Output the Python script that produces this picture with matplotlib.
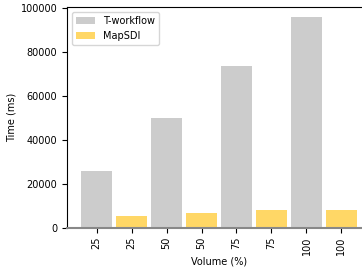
import matplotlib
matplotlib.use('Agg')
import matplotlib.pyplot as plt
import numpy as np

volumes = ['25', '50', '75', '100']
t_workflow = [25900, 49900, 73500, 96000]
mapsdi = [5600, 6800, 8200, 8300]

grey = '#cccccc'
gold = '#ffd766'

fig = plt.figure(figsize=(3.62, 2.67), dpi=100)
ax = fig.add_axes([67 / 362, 1 - 228 / 267, 304 / 362, 221 / 267])

pos_t = np.arange(len(volumes)) * 2
pos_m = pos_t + 1
ax.bar(pos_t, t_workflow, width=0.9, color=grey, label='T-workflow')
ax.bar(pos_m, mapsdi, width=0.9, color=gold, label='MapSDI')

ticks = np.arange(len(volumes) * 2)
labels = [v for v in volumes for _ in range(2)]
ax.set_xticks(ticks)
ax.set_xticklabels(labels, rotation=90, fontsize=7)
ax.tick_params(axis='x', pad=2.5)
ax.set_xlim(-0.845, 7.845)
ax.set_ylim(0, 100500)
ax.set_yticks([0, 20000, 40000, 60000, 80000, 100000])
ax.tick_params(axis='y', labelsize=7)
ax.set_xlabel('Volume (%)', fontsize=7, labelpad=1.5)
ax.set_ylabel('Time (ms)', fontsize=7, labelpad=3)
ax.spines['bottom'].set_color('#888888')
ax.spines['bottom'].set_linewidth(1.5)

ax.legend(loc='upper left', fontsize=7)

fig.savefig('out.png', dpi=100)
